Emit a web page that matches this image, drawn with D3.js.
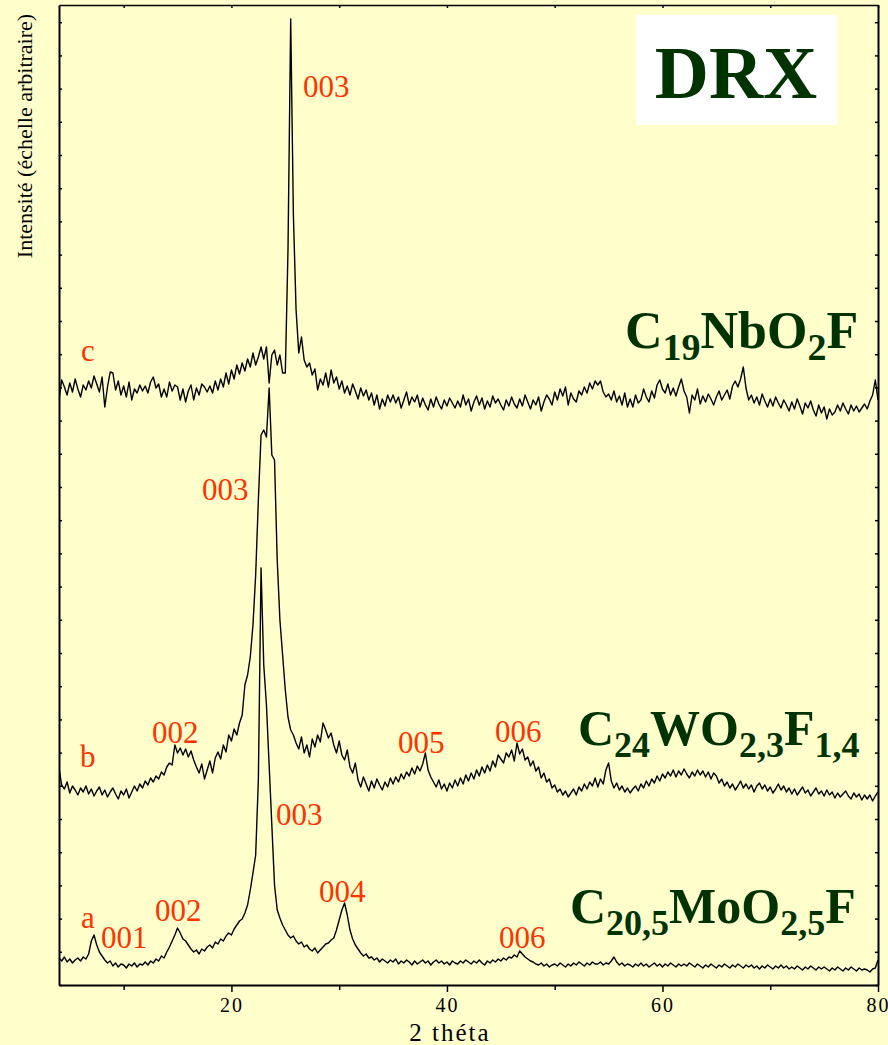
<!DOCTYPE html>
<html>
<head>
<meta charset="utf-8">
<script src="https://cdn.jsdelivr.net/npm/d3@7"></script>
<style>
  html, body { margin: 0; padding: 0; background: #ffffcc; }
  svg { display: block; }
  text { font-family: "Liberation Serif", "Times New Roman", serif; }
</style>
</head>
<body>
<svg id="chart" width="888" height="1045"></svg>
<script>
// Diffraction patterns (2θ grid: start 4°, step 0.25°), intensities in arbitrary units, stacked
const thetaStart = 4;
const thetaStep = 0.25;

// a : C20,5MoO2,5F
const intensityMo = [
  27,24,28,23, 26,22,25,27, 24,28,26,31, 44,50,40,33, 29,25,22,24,
  19,22,18,21, 20,17,21,19, 22,18,21,20, 23,20,24,22, 26,24,29,27,
  33,38,44,50, 57,52,46,44, 40,36,33,35, 31,36,34,38, 40,37,43,41,
  46,44,49,52, 50,56,60,64, 66,72,80,95, 112,130,205,417, 320,280,220,160,
  100,75,67,60, 55,50,47,49, 44,41,43,38, 40,36,34,37, 32,35,38,41,
  42,45,47,55, 65,75,82,70, 55,46,40,36, 32,29,31,27, 28,25,27,23,
  26,24,22,25, 23,26,21,24, 22,25,23,20, 24,21,23,25, 22,24,20,23,
  25,22,24,21, 23,20,24,22, 21,24,22,25, 23,21,24,22, 25,22,20,24,
  22,25,23,26, 24,27,25,28, 27,30,28,34, 31,28,26,24, 23,21,20,22,
  19,21,18,20, 21,19,22,20, 18,21,19,22, 20,23,21,19, 22,20,23,21,
  21,23,20,22, 21,24,28,23, 20,22,19,21, 20,18,21,19, 22,19,21,18,
  20,22,19,21, 18,21,19,22, 20,18,21,19, 21,19,22,20, 18,21,19,17,
  20,18,21,19, 17,20,18,21, 19,17,20,18, 21,19,17,20, 18,20,17,19,
  16,19,17,20, 18,16,19,17, 20,17,19,16, 18,16,19,17, 15,18,16,19,
  17,15,18,16, 18,16,14,17, 15,18,16,14, 17,15,18,16, 14,17,15,16,
  15,13,16,17, 25
];

// b : C24WO2,3F1,4
const intensityW = [
  217,200,196,203, 192,199,195,190, 197,193,199,191, 196,189,194,198, 190,195,188,193,
  197,191,186,194, 190,196,187,193, 199,194,201,197, 204,200,207,203, 209,206,213,210,
  218,222,220,240, 232,237,230,236, 228,234,225,218, 212,221,206,215, 224,212,227,233,
  226,240,233,250, 244,256,250,262, 270,300,310,328, 360,410,485,550, 555,548,597,530,
  525,425,365,330, 295,268,255,250, 242,236,248,232, 240,228,246,238, 250,243,262,255,
  247,252,240,232, 244,230,225,235, 218,212,222,205, 198,208,201,194, 204,197,206,200,
  195,203,198,207, 201,208,203,211, 206,213,209,217, 211,219,214,221, 232,215,208,203,
  198,205,196,201, 194,202,197,205, 199,207,201,210, 204,212,206,215, 209,218,212,220,
  214,224,218,230, 226,222,232,228, 235,224,242,231, 236,225,228,219, 224,214,218,207,
  212,203,206,197, 200,193,196,190, 194,188,192,196, 190,198,194,201, 196,203,199,207,
  198,206,201,215, 222,204,197,202, 195,199,193,197, 192,196,199,194, 201,197,204,199,
  206,202,209,204, 211,207,213,209, 215,208,214,210, 216,211,207,213, 209,215,210,214,
  208,213,206,212, 209,202,206,199, 203,197,201,195, 199,204,197,201, 196,200,193,199,
  202,196,200,194, 198,192,196,201, 195,199,193,197, 191,196,190,194, 198,192,195,189,
  193,197,191,194, 189,195,190,193, 187,192,188,191, 194,189,186,192, 188,191,185,190,
  186,190,184,189, 193
];

// c : C19NbO2F
const intensityNb = [
  585,605,598,590, 602,593,606,596, 588,600,595,604, 597,609,601,593, 608,578,598,613,
  612,595,604,590, 599,588,603,585, 596,592,600,594, 599,592,603,608, 597,601,588,596,
  588,603,594,600, 598,585,596,583, 594,600,585,597, 590,601,598,593, 599,592,604,595,
  606,598,612,601, 615,606,620,611, 622,614,626,618, 632,620,628,638, 626,638,602,630,
  635,620,630,612, 612,735,966,770, 675,632,648,625, 618,622,610,616, 595,606,600,612,
  598,615,602,608, 596,604,592,599, 590,601,594,586, 597,589,595,585, 592,580,590,576,
  586,579,590,583, 590,582,588,577, 585,593,580,588, 583,590,578,587, 580,575,586,578,
  588,581,576,585, 579,587,582,577, 584,578,590,580, 586,574,583,589, 580,587,576,584,
  578,589,582,586, 580,575,585,579, 588,581,577,586, 579,590,583,576, 585,580,588,574,
  583,590,586,580, 593,585,596,589, 598,580,592,586, 583,594,590,598, 592,602,596,604,
  600,604,593,588, 591,585,594,583, 589,580,592,578, 586,578,590,582, 585,596,588,583,
  594,587,600,605, 596,592,601,590, 597,589,598,606, 594,588,572,590, 585,596,581,589,
  583,591,586,580, 588,594,585,590, 595,586,599,604, 598,606,618,597, 585,590,582,588,
  580,591,584,578, 586,579,588,582, 577,585,580,574, 583,576,586,579, 571,582,577,584,
  575,569,580,572, 578,566,576,570, 573,580,574,582, 576,571,580,574, 579,573,577,581,
  576,584,590,605, 585
];

const xDomain = [4, 80];
const yDomain = [0, 980];
const xMajorTicks = [20, 40, 60, 80];
const xMinorTicks = [10, 30, 50, 70];
const yTickValues = d3.range(0, 970, 33.2);

// reflection labels placed beside their peaks
const peakLabels = [
  { text: "c",   x: 81,  y: 361 },
  { text: "003", x: 303, y: 97 },
  { text: "003", x: 202, y: 500 },
  { text: "b",   x: 80,  y: 767 },
  { text: "002", x: 152, y: 743 },
  { text: "005", x: 398, y: 753 },
  { text: "006", x: 495, y: 742 },
  { text: "003", x: 276, y: 825 },
  { text: "004", x: 319, y: 902 },
  { text: "a",   x: 81,  y: 928 },
  { text: "001", x: 101, y: 948 },
  { text: "002", x: 155, y: 921 },
  { text: "006", x: 499, y: 948 }
];

// compound formulas: parts as [text, isSubscript]
const formulaNb = [["C", false], ["19", true], ["NbO", false], ["2", true], ["F", false]];
const formulaW  = [["C", false], ["24", true], ["WO", false], ["2,3", true], ["F", false], ["1,4", true]];
const formulaMo = [["C", false], ["20,5", true], ["MoO", false], ["2,5", true], ["F", false]];

const svg = d3.select("#chart");
const W = 888, H = 1045;
const margin = { left: 59, right: 10, top: 5, bottom: 60 };
const plotW = 878 - margin.left;
const plotH = 985 - margin.top;

svg.append("rect").attr("width", W).attr("height", H).attr("fill", "#ffffcc");

const x = d3.scaleLinear().domain(xDomain).range([margin.left, 878]);
const y = d3.scaleLinear().domain(yDomain).range([985, margin.top]);

svg.append("defs").append("clipPath").attr("id", "plotClip")
  .append("rect").attr("x", margin.left).attr("y", margin.top)
  .attr("width", plotW).attr("height", plotH);

const line = d3.line()
  .x((d, i) => x(thetaStart + i * thetaStep))
  .y(d => y(d));

const traces = svg.append("g").attr("clip-path", "url(#plotClip)");
[intensityNb, intensityW, intensityMo].forEach(series => {
  traces.append("path")
    .datum(series)
    .attr("d", line)
    .attr("fill", "none")
    .attr("stroke", "#000")
    .attr("stroke-width", 1.4)
    .attr("stroke-linejoin", "round");
});

// axes
const axisColor = "#000";
function styleAxis(g, width) {
  g.select(".domain").attr("stroke", axisColor).attr("stroke-width", width);
  g.selectAll(".tick line").attr("stroke", axisColor).attr("stroke-width", 1.5);
}

const bottomMajor = svg.append("g").attr("transform", "translate(0,985)")
  .call(d3.axisBottom(x).tickValues(xMajorTicks).tickSize(7).tickSizeOuter(0).tickPadding(6));
styleAxis(bottomMajor, 2);
bottomMajor.selectAll(".tick text")
  .attr("font-size", 20)
  .attr("letter-spacing", 2)
  .attr("fill", "#000")
  .style("font-family", "'Liberation Serif', serif");

const bottomMinor = svg.append("g").attr("transform", "translate(0,985)")
  .call(d3.axisBottom(x).tickValues(xMinorTicks).tickSize(5).tickFormat(""));
bottomMinor.select(".domain").remove();
bottomMinor.selectAll(".tick line").attr("stroke", axisColor).attr("stroke-width", 1.5);

const topAxis = svg.append("g").attr("transform", `translate(0,${margin.top})`)
  .call(d3.axisTop(x).tickValues(xMinorTicks.concat(xMajorTicks)).tickSize(-3).tickSizeOuter(0).tickFormat(""));
styleAxis(topAxis, 1.5);

const leftAxis = svg.append("g").attr("transform", `translate(${margin.left},0)`)
  .call(d3.axisLeft(y).tickValues(yTickValues).tickSize(-3).tickSizeOuter(0).tickFormat(""));
styleAxis(leftAxis, 2);

const rightAxis = svg.append("g").attr("transform", "translate(878,0)")
  .call(d3.axisRight(y).tickValues(yTickValues).tickSize(-3).tickSizeOuter(0).tickFormat(""));
styleAxis(rightAxis, 2);

// axis titles
svg.append("text")
  .attr("x", 450).attr("y", 1041)
  .attr("text-anchor", "middle")
  .attr("font-size", 25)
  .attr("letter-spacing", 2)
  .text("2 théta");

svg.append("text")
  .attr("transform", "translate(32,136) rotate(-90)")
  .attr("text-anchor", "middle")
  .attr("font-size", 22)
  .text("Intensité (échelle arbitraire)");

// reflection labels
svg.append("g").selectAll("text")
  .data(peakLabels)
  .join("text")
  .attr("x", d => d.x)
  .attr("y", d => d.y)
  .attr("font-size", 31)
  .attr("fill", "#ff3300")
  .text(d => d.text);

// compound formulas
function drawFormula(parts, x0, baseline, size, subSize) {
  const t = svg.append("text")
    .attr("x", x0).attr("y", baseline)
    .attr("font-size", size)
    .attr("font-weight", "bold")
    .attr("fill", "#003300");
  let shifted = false;
  parts.forEach(([s, sub]) => {
    const ts = t.append("tspan").text(s);
    if (sub) {
      ts.attr("font-size", subSize);
      if (!shifted) { ts.attr("dy", 12); shifted = true; }
    } else if (shifted) {
      ts.attr("dy", -12); shifted = false;
    }
  });
}
drawFormula(formulaNb, 625, 348, 52, 38);
drawFormula(formulaW, 578, 745, 50, 36);
drawFormula(formulaMo, 570, 923, 50, 36);

// title box
svg.append("rect")
  .attr("x", 636).attr("y", 15)
  .attr("width", 201).attr("height", 110)
  .attr("fill", "#ffffff");
svg.append("text")
  .attr("x", 736).attr("y", 98)
  .attr("text-anchor", "middle")
  .attr("font-size", 75)
  .attr("font-weight", "bold")
  .attr("fill", "#003300")
  .text("DRX");
</script>
</body>
</html>
